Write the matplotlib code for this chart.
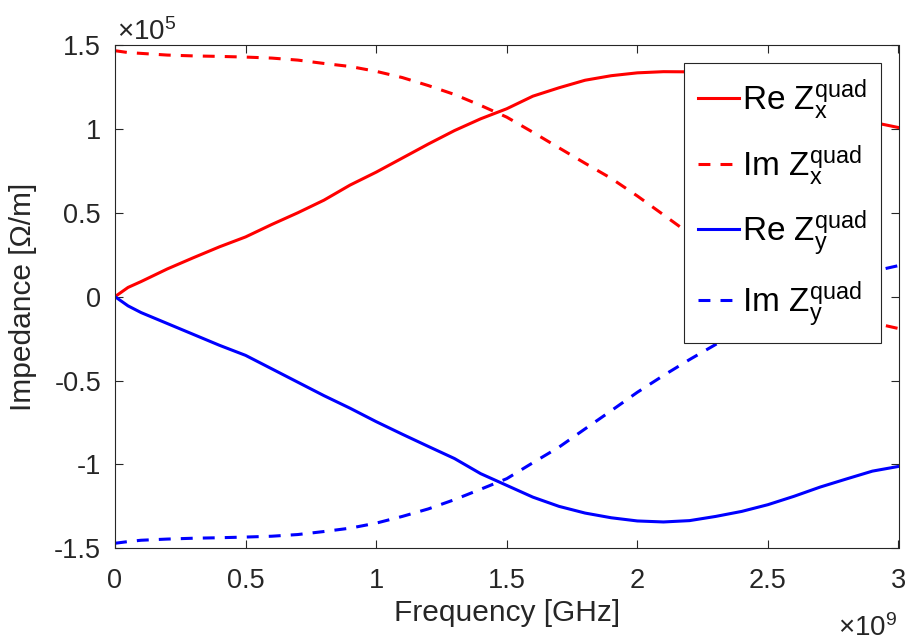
import numpy as np
import matplotlib
matplotlib.use("Agg")
import matplotlib.pyplot as plt
from matplotlib.ticker import FuncFormatter

# frequências em GHz e impedâncias em unidades de 1e5 Ohm/m
freq_ghz = [0, 0.05, 0.1, 0.2, 0.3, 0.4, 0.5, 0.6, 0.7, 0.8, 0.9, 1.0,
            1.1, 1.2, 1.3, 1.4, 1.5, 1.6, 1.7, 1.8, 1.9, 2.0,
            2.1, 2.2, 2.3, 2.4, 2.5, 2.6, 2.7, 2.8, 2.9, 3.0]

re_zx = [0, 0.055, 0.09, 0.165, 0.232, 0.297, 0.356, 0.43, 0.50, 0.575, 0.665, 0.742,
         0.826, 0.91, 0.99, 1.06, 1.12, 1.195, 1.245, 1.29, 1.317, 1.334,
         1.341, 1.34, 1.31, 1.28, 1.24, 1.19, 1.135, 1.087, 1.04, 1.008]

im_zx = [1.466, 1.455, 1.45, 1.44, 1.435, 1.432, 1.428, 1.422, 1.41, 1.39, 1.372, 1.343,
         1.306, 1.258, 1.205, 1.14, 1.07, 0.98, 0.887, 0.795, 0.705, 0.60,
         0.488, 0.375, 0.28, 0.185, 0.095, 0.02, -0.045, -0.105, -0.155, -0.19]

re_zy = [0, -0.055, -0.095, -0.16, -0.225, -0.29, -0.35, -0.43, -0.51, -0.59, -0.665, -0.745,
         -0.82, -0.893, -0.965, -1.055, -1.125, -1.195, -1.25, -1.29, -1.318, -1.337,
         -1.343, -1.335, -1.31, -1.28, -1.24, -1.19, -1.135, -1.087, -1.04, -1.012]

im_zy = [-1.47, -1.46, -1.452, -1.445, -1.44, -1.437, -1.433, -1.428, -1.418, -1.40, -1.38, -1.35,
         -1.31, -1.265, -1.21, -1.148, -1.085, -0.99, -0.897, -0.788, -0.68, -0.57,
         -0.47, -0.375, -0.285, -0.19, -0.10, -0.025, 0.04, 0.10, 0.15, 0.185]

labels = [r"Re $\mathrm{Z}_{\mathrm{x}}^{\mathrm{quad}}$",
          r"Im $\mathrm{Z}_{\mathrm{x}}^{\mathrm{quad}}$",
          r"Re $\mathrm{Z}_{\mathrm{y}}^{\mathrm{quad}}$",
          r"Im $\mathrm{Z}_{\mathrm{y}}^{\mathrm{quad}}$"]

plt.rcParams['font.family'] = ['Liberation Sans', 'DejaVu Sans']
plt.rcParams['mathtext.fontset'] = 'custom'
plt.rcParams['mathtext.rm'] = 'Liberation Sans'
plt.rcParams['mathtext.it'] = 'Liberation Sans:italic'
plt.rcParams['axes.unicode_minus'] = False

cinza = '#262626'
tam_tick = 19.5
tam_label = 21.5

fig = plt.figure(figsize=(9.07, 6.41), dpi=100)
ax = fig.add_axes([115 / 907, 1 - 548.3 / 641, (898.5 - 115) / 907, (548.3 - 45) / 641])

f = np.array(freq_ghz) * 1e9
lw = 2.2
tracos = (3.9, 3.3)
ax.plot(f, np.array(re_zx) * 1e5, color='red', lw=lw, label=labels[0])
ax.plot(f, np.array(im_zx) * 1e5, color='red', lw=lw, dashes=tracos, label=labels[1])
ax.plot(f, np.array(re_zy) * 1e5, color='blue', lw=lw, label=labels[2])
ax.plot(f, np.array(im_zy) * 1e5, color='blue', lw=lw, dashes=tracos, label=labels[3])

ax.set_xlim(0, 3e9)
ax.set_ylim(-1.5e5, 1.5e5)
ax.set_xticks(np.arange(0, 3.01e9, 0.5e9))
ax.set_yticks(np.arange(-1.5e5, 1.51e5, 0.5e5))
ax.xaxis.set_major_formatter(FuncFormatter(lambda v, p: f"{v / 1e9:g}"))
ax.yaxis.set_major_formatter(FuncFormatter(lambda v, p: f"{v / 1e5:g}"))

ax.tick_params(direction='in', top=True, right=True, length=6, width=0.8,
               colors=cinza, labelsize=tam_tick)
ax.tick_params(axis='x', pad=14)
ax.tick_params(axis='y', pad=10)
for s in ax.spines.values():
    s.set_color(cinza)
    s.set_linewidth(0.8)

# expoentes no estilo do MATLAB
fig.text(117 / 907, 1 - 40 / 641, r"×$10^{5}$", fontsize=tam_tick + 0.5, color=cinza,
         ha='left', va='baseline')
fig.text(897 / 907, 1 - 636 / 641, r"×$10^{9}$", fontsize=tam_tick + 0.5, color=cinza,
         ha='right', va='baseline')

ax.set_xlabel('Frequency [GHz]', fontsize=tam_label, color=cinza, labelpad=4)
ax.set_ylabel('Impedance [Ω/m]', fontsize=tam_label, color=cinza, labelpad=12)

leg = ax.legend(loc='upper right', bbox_to_anchor=(0.978, 0.964), borderaxespad=0,
                fontsize=24, fancybox=False, edgecolor=cinza, framealpha=1,
                handlelength=1.23, handletextpad=0.1, labelspacing=0.62,
                borderpad=0.42)
leg.get_frame().set_linewidth(0.8)

fig.savefig('out.png', dpi=100)
